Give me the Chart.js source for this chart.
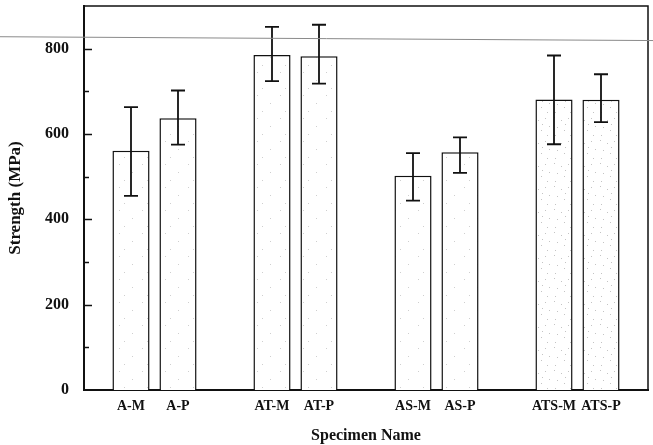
<!DOCTYPE html>
<html>
<head>
<meta charset="utf-8">
<script src="https://cdn.jsdelivr.net/npm/chart.js@4"></script>
<style>
  body { margin: 0; background: #fff; }
  #wrap { width: 653px; height: 445px; }
</style>
</head>
<body>
<div id="wrap"><canvas id="strengthChart" width="653" height="445"></canvas></div>
<script>
// ---------- DATA ----------
const specimens = ["", "A-M", "A-P", "", "AT-M", "AT-P", "", "AS-M", "AS-P", "", "ATS-M", "ATS-P", ""];
const strength  = [null, 561, 637, null, 785, 782, null, 502, 557, null, 681, 680, null];
const errHigh   = [null, 663, 702, null, 851, 856, null, 555, 592, null, 784, 740, null];
const errLow    = [null, 455, 575, null, 724, 718, null, 444, 509, null, 576, 628, null];
const yTicks    = [0, 200, 400, 600, 800];

const serif = "'Liberation Serif', 'DejaVu Serif', serif";

// ---------- STIPPLE FILL ----------
function stipple(dots, shade) {
  const c = document.createElement("canvas");
  c.width = 23; c.height = 23;
  const g = c.getContext("2d");
  g.fillStyle = "#fff";
  g.fillRect(0, 0, 23, 23);
  g.fillStyle = shade;
  dots.forEach(d => g.fillRect(d[0], d[1], 1, 1));
  return g.createPattern(c, "repeat");
}
const light = stipple([[4, 3], [17, 11], [9, 19]], "#cfcfcf");
const dense = stipple([[2, 2], [9, 5], [16, 3], [20, 11], [5, 12], [12, 15], [18, 20], [3, 20], [13, 9]], "#c4c4c4");
const fills = specimens.map(s => s.startsWith("ATS") ? dense : light);

// ---------- PLUGINS ----------
const errorBars = {
  id: "errorBars",
  afterDatasetsDraw(chart) {
    const ctx = chart.ctx, y = chart.scales.y;
    const meta = chart.getDatasetMeta(0);
    ctx.save();
    ctx.strokeStyle = "#111";
    ctx.lineWidth = 1.8;
    meta.data.forEach((bar, i) => {
      if (strength[i] == null) return;
      const x = bar.x, hi = y.getPixelForValue(errHigh[i]), lo = y.getPixelForValue(errLow[i]);
      ctx.beginPath();
      ctx.moveTo(x, hi); ctx.lineTo(x, lo);
      ctx.moveTo(x - 7, hi); ctx.lineTo(x + 7, hi);
      ctx.moveTo(x - 7, lo); ctx.lineTo(x + 7, lo);
      ctx.stroke();
    });
    ctx.restore();
  }
};

const frame = {
  id: "frame",
  afterDraw(chart) {
    const ctx = chart.ctx, a = chart.chartArea, y = chart.scales.y;
    ctx.save();
    // box
    ctx.strokeStyle = "#111";
    ctx.lineWidth = 1.5;
    ctx.beginPath();
    ctx.moveTo(a.left, a.top); ctx.lineTo(a.right, a.top); ctx.lineTo(a.right, a.bottom);
    ctx.stroke();
    // inward ticks on y axis
    for (let v = 100; v < 900; v += 100) {
      const py = Math.round(y.getPixelForValue(v)) + 0.5;
      ctx.beginPath();
      ctx.moveTo(a.left, py);
      ctx.lineTo(a.left + (v % 200 === 0 ? 8 : 5), py);
      ctx.stroke();
    }
    // faint scan line across the page
    ctx.strokeStyle = "#8a8a8a";
    ctx.lineWidth = 1;
    ctx.beginPath();
    ctx.moveTo(0, y.getPixelForValue(828));
    ctx.lineTo(chart.width, y.getPixelForValue(819));
    ctx.stroke();
    ctx.restore();
  }
};

// ---------- CHART ----------
new Chart(document.getElementById("strengthChart"), {
  type: "bar",
  data: {
    labels: specimens,
    datasets: [{
      data: strength,
      backgroundColor: fills,
      borderColor: "#111",
      borderWidth: 1.5,
      borderSkipped: "bottom",
      categoryPercentage: 1,
      barPercentage: 0.79
    }]
  },
  options: {
    responsive: false,
    animation: false,
    layout: { padding: { top: 6, right: 5, left: 0, bottom: 0 } },
    plugins: { legend: { display: false }, tooltip: { enabled: false } },
    scales: {
      x: {
        offset: false,
        grid: { display: false, drawTicks: false },
        border: { display: true, color: "#111", width: 2 },
        ticks: {
          color: "#111", padding: 8, maxRotation: 0, autoSkip: false,
          font: { family: serif, size: 14, weight: "bold" }
        },
        title: {
          display: true, text: "Specimen Name", color: "#111",
          font: { family: serif, size: 16, weight: "bold" },
          padding: { top: 5, bottom: 0 }
        },
        afterFit: s => { s.height = 55; s.paddingLeft = 0; s.paddingRight = 0; }
      },
      y: {
        min: 0, max: 900,
        afterBuildTicks: s => { s.ticks = yTicks.map(v => ({ value: v })); },
        grid: { display: false, drawTicks: false },
        border: { display: true, color: "#111", width: 2 },
        ticks: {
          color: "#111", padding: 15,
          font: { family: serif, size: 16, weight: "bold" }
        },
        title: {
          display: true, text: "Strength (MPa)", color: "#111",
          font: { family: serif, size: 17, weight: "bold" },
          padding: { top: 5, bottom: 0 }
        },
        afterFit: s => { s.width = 84; s.paddingTop = 0; s.paddingBottom = 0; }
      }
    }
  },
  plugins: [errorBars, frame]
});
</script>
</body>
</html>
